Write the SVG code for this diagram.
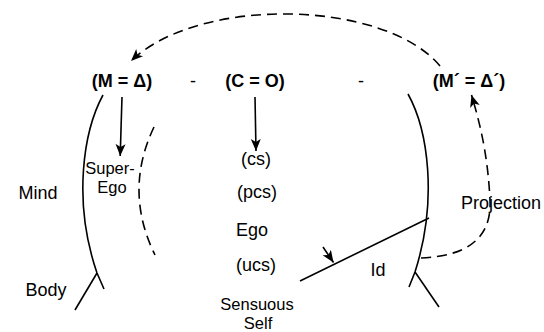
<svg xmlns="http://www.w3.org/2000/svg" width="544" height="332" viewBox="0 0 544 332">
<style>
text{font-family:"Liberation Sans",Arial,Helvetica,sans-serif;font-size:18px;fill:#000;text-anchor:middle}
.b{font-weight:bold}
.s{font-size:16.5px}
.ln{fill:none;stroke:#000;stroke-width:1.6}
.dash{fill:none;stroke:#000;stroke-width:1.6;stroke-dasharray:10 6}
</style>
<defs>
<marker id="ah" markerUnits="userSpaceOnUse" markerWidth="14" markerHeight="12" refX="12" refY="5" orient="auto">
<path d="M0,0 L12,5 L0,10 L3,5 z" fill="#000"/>
</marker>
</defs>
<rect width="544" height="332" fill="#fff"/>
<g id="connectors">
<path class="dash" d="M440,66 C385,0 200,-5 131,61" marker-end="url(#ah)"/>
<path class="ln" d="M122,97 L120.2,156" marker-end="url(#ah)"/>
<path class="ln" d="M255,97 L256,151" marker-end="url(#ah)"/>
<path class="dash" d="M421,258 C465,256 492,240 490,200 C488,160 482,130 471.5,95" marker-end="url(#ah)"/>
<path class="ln" d="M323,247 L333.5,262.5" marker-end="url(#ah)"/>
</g>
<g id="mind-boundary">
<path class="ln" d="M103,95 C84,130 72,200 97,273 L104,289"/>
<path class="ln" d="M97,273 L75,310"/>
</g>
<g id="id-boundary">
<path class="ln" d="M408,94 C428,130 438,200 415,272 L409,287"/>
<path class="ln" d="M415,272 L439,307"/>
<path class="ln" d="M429,218 L300,281"/>
</g>
<g id="superego-boundary">
<path class="dash" d="M154,127 Q123.5,191 155,255"/>
</g>
<g id="m-delta"><text class="b" x="122" y="87">(M = Δ)</text></g>
<g id="sep1"><text x="193" y="87">-</text></g>
<g id="c-o"><text class="b" x="255" y="87">(C = O)</text></g>
<g id="sep2"><text x="361" y="87">-</text></g>
<g id="m-delta-prime"><text class="b" x="469" y="87">(M´ = Δ´)</text></g>
<g id="superego"><text class="s" x="110" y="174">Super-</text><text class="s" x="112" y="193">Ego</text></g>
<g id="mind"><text x="38" y="199">Mind</text></g>
<g id="body"><text x="46" y="296">Body</text></g>
<g id="cs"><text x="256" y="165">(cs)</text></g>
<g id="pcs"><text x="257" y="198">(pcs)</text></g>
<g id="ego"><text x="252" y="236">Ego</text></g>
<g id="ucs"><text x="256" y="271">(ucs)</text></g>
<g id="sensuous-self"><text class="s" x="257" y="310">Sensuous</text><text class="s" x="258" y="329">Self</text></g>
<g id="id"><text x="378" y="276">Id</text></g>
<g id="projection"><text x="501" y="209">Projection</text></g>
</svg>
